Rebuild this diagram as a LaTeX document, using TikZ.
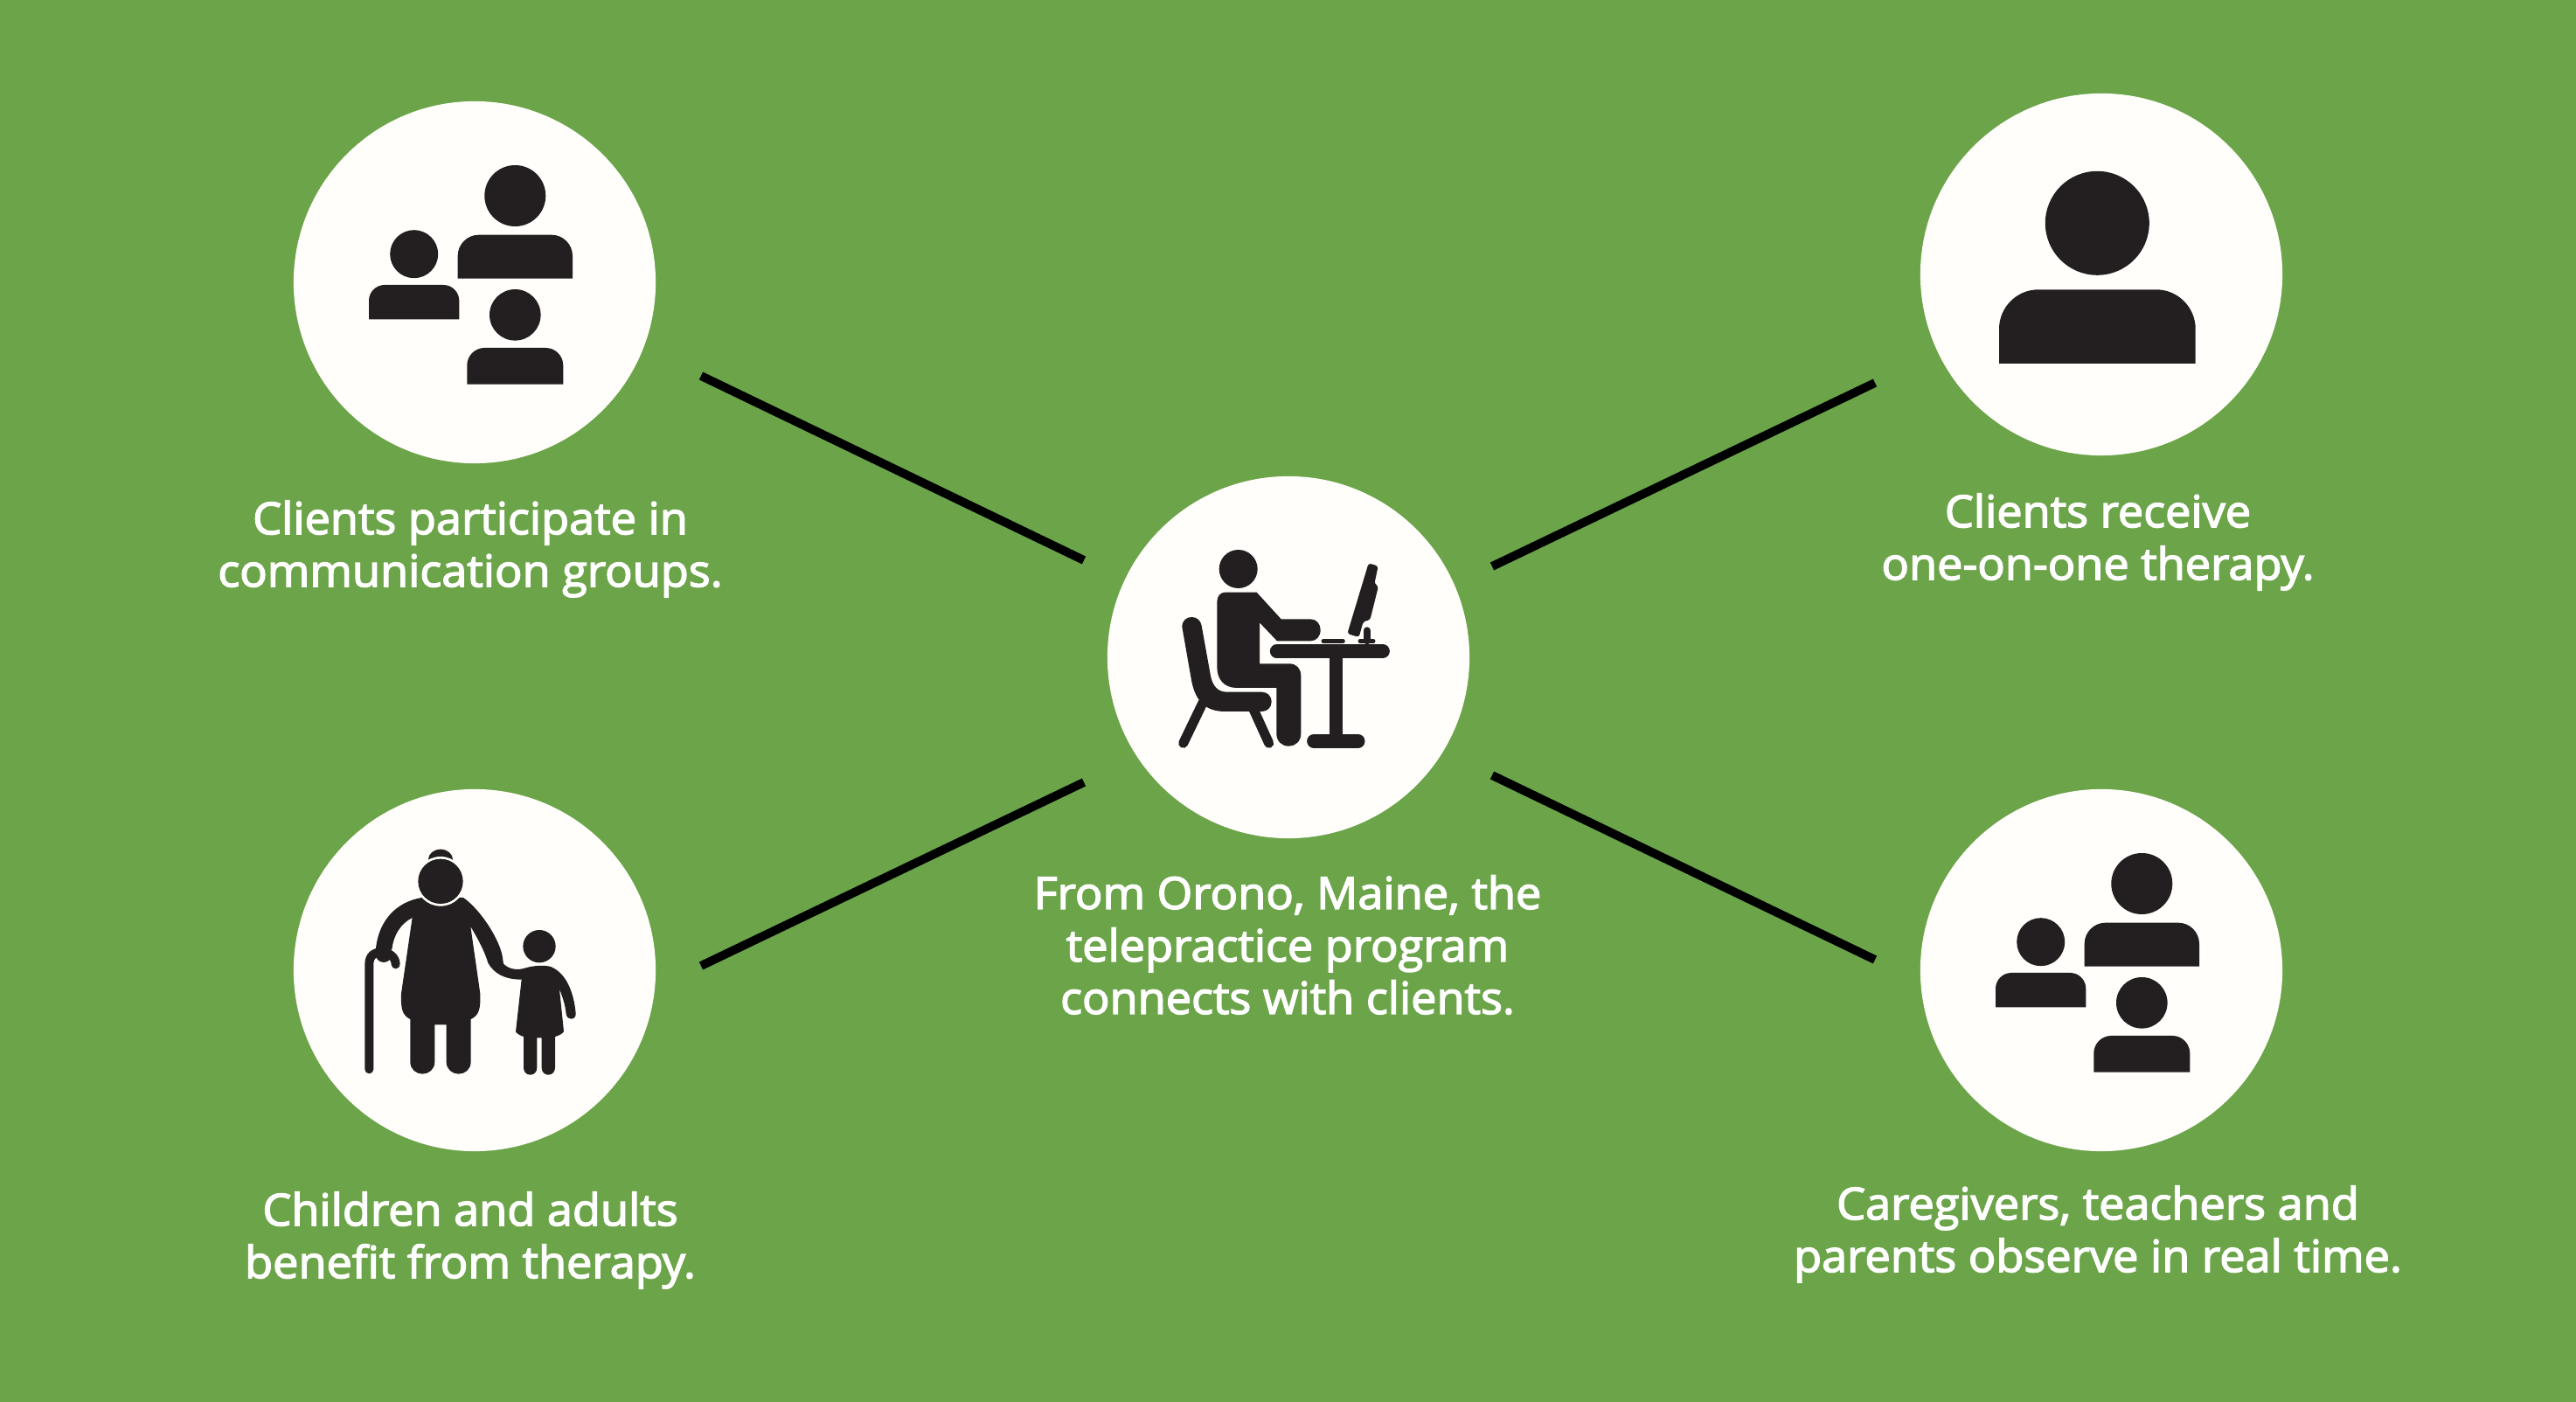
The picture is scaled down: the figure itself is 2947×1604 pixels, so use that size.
\documentclass[tikz,border=0pt]{standalone}
\usepackage{fontspec}
\setmainfont{Open Sans}[FakeBold=2.8,FakeStretch=1.032]
\definecolor{bggreen}{HTML}{6BA449}
\definecolor{disc}{HTML}{FFFEFA}
\definecolor{ink}{HTML}{231F20}
% shoulders: flat bottom, rounded top corners (x1,x2,top,bottom,radius)
\newcommand{\shoulders}[5]{%
  \fill[ink] (#1,#4) -- (#1,#3+#5) .. controls (#1,#3+0.45*#5) and (#1+0.45*#5,#3) .. (#1+#5,#3)
    -- (#2-#5,#3) .. controls (#2-0.45*#5,#3) and (#2,#3+0.45*#5) .. (#2,#3+#5) -- (#2,#4) -- cycle;}
\tikzset{
  disk/.style={circle,fill=disc,minimum size=4.14cm,inner sep=0pt},
  caption/.style={text=white,font=\fontsize{14.4pt}{17.07pt}\selectfont,align=center,inner sep=0pt},
  spoke/.style={draw=black,line width=2.8pt},
  stk/.style={draw=ink,line cap=round},
  pics/trio/.style={code={
    \fill[ink] (46.3,-99) circle (35);
    \shoulders{-19.3}{112}{-54.3}{-4.3}{24}
    \fill[ink] (-69.3,-32.3) circle (27.5);
    \shoulders{-121}{-17.7}{3}{42.3}{18}
    \fill[ink] (46.3,37.3) circle (29.3);
    \shoulders{-8.7}{101.3}{75}{116.7}{20}
  }}
}
\begin{document}
\begin{tikzpicture}[x=0.01cm,y=-0.01cm]
\useasboundingbox (0,0) rectangle (2947,1604);
\fill[bggreen] (0,0) rectangle (2947,1604);
% discs
\node[disk] (tl) at (543,323) {};
\node[disk] (tr) at (2404,314) {};
\node[disk] (ctr) at (1474,752) {};
\node[disk] (bl) at (543,1110) {};
\node[disk] (br) at (2404,1110) {};
% spokes
\coordinate (tla) at (802,430); \coordinate (tlb) at (1240,641);
\coordinate (tra) at (1707,648); \coordinate (trb) at (2145,438);
\coordinate (bla) at (802,1105); \coordinate (blb) at (1240,895);
\coordinate (bra) at (1707,887); \coordinate (brb) at (2145,1098);
\draw[spoke] (tla) -- (tlb);
\draw[spoke] (tra) -- (trb);
\draw[spoke] (bla) -- (blb);
\draw[spoke] (bra) -- (brb);
% group icons
\pic at (543,323) {trio};
\pic at (2404,1110) {trio};
% single person
\fill[ink] (2399.3,255.3) circle (59.5);
\shoulders{2287}{2511.7}{331.3}{416}{45}
% desk icon
\begin{scope}[shift={(1300,600)},x=0.01cm/3,y=-0.01cm/3]
\fill[ink] (350,153) circle (66);
\fill[ink] (305,233) -- (413,233) -- (497,325) -- (598,325)
  .. controls (618,325) and (632,342) .. (632,362)
  .. controls (632,384) and (618,400) .. (598,400) -- (483,400) -- (423,337) -- (423,478) -- (525,478)
  .. controls (550,478) and (565,495) .. (565,520) -- (565,718)
  .. controls (565,745) and (545,761) .. (523,761)
  .. controls (500,761) and (481,745) .. (481,718) -- (481,561) -- (345,561)
  .. controls (300,561) and (277,530) .. (277,490) -- (277,265)
  .. controls (277,245) and (290,233) .. (305,233) -- cycle;
\fill[ink] (157,352) .. controls (157,330) and (172,318) .. (190,318)
  .. controls (208,318) and (221,330) .. (224,348) -- (255,520)
  .. controls (262,555) and (280,575) .. (310,575) -- (430,575)
  .. controls (450,575) and (464,590) .. (464,608)
  .. controls (464,628) and (450,642) .. (430,642) -- (305,642)
  .. controls (240,642) and (205,610) .. (190,540) -- cycle;
\draw[stk,line width=0.11cm] (228,612) -- (161,751);
\draw[stk,line width=0.11cm] (400,630) -- (455,751);
\draw[stk,line width=0.157cm] (482,435.5) -- (846,435.5);
\fill[ink] (662,450) rectangle (709,730);
\draw[stk,line width=0.157cm] (609,743.5) -- (761,743.5);
\draw[stk,line width=0.05cm] (642,400.5) -- (709,400.5);
\draw[stk,line width=0.05cm] (768,400.5) -- (813,400.5);
\draw[stk,line width=0.08cm] (791,364) -- (791,400);
\fill[ink,rounded corners=0.03cm] (797,133) -- (830,143) -- (817,204) -- (831,212) -- (802,328) -- (779,333) -- (764,387) -- (724,375) -- cycle;
\end{scope}
% grandmother and child
\begin{scope}[shift={(390,950)},x=0.01cm/3,y=-0.01cm/3]
\fill[ink] (342,100) ellipse (42 and 35);
\fill[ink] (278,231) .. controls (190,245) and (130,310) .. (120,405) -- (175,410)
  .. controls (180,360) and (205,320) .. (245,300) -- (207,560)
  .. controls (205,610) and (210,635) .. (238,648) -- (238,795)
  .. controls (238,820) and (258,836) .. (280,836)
  .. controls (302,836) and (322,820) .. (322,795) -- (322,667) -- (362,667) -- (362,795)
  .. controls (362,820) and (382,836) .. (404,836)
  .. controls (426,836) and (446,820) .. (446,795) -- (446,648)
  .. controls (475,635) and (480,610) .. (478,560) -- (445,330)
  .. controls (475,380) and (495,420) .. (505,455)
  .. controls (525,490) and (560,512) .. (620,512) -- (600,692)
  .. controls (610,702) and (620,706) .. (627,708) -- (627,815)
  .. controls (627,830) and (638,839) .. (650,839)
  .. controls (662,839) and (673,830) .. (673,815) -- (673,712) -- (689,712) -- (689,815)
  .. controls (689,830) and (700,839) .. (712,839)
  .. controls (724,839) and (735,830) .. (735,815) -- (735,708)
  .. controls (750,704) and (760,698) .. (765,690) -- (750,545)
  .. controls (762,575) and (770,600) .. (773,630)
  .. controls (775,642) and (782,647) .. (790,647)
  .. controls (800,647) and (807,640) .. (806,628)
  .. controls (800,560) and (775,490) .. (720,468)
  .. controls (700,462) and (660,464) .. (635,472)
  .. controls (610,480) and (580,480) .. (558,458)
  .. controls (555,440) and (555,430) .. (550,415)
  .. controls (530,350) and (470,265) .. (420,231) -- cycle;
\fill[disc] (342,175) circle (85);
\fill[ink] (342,175) circle (77);
\fill[ink] (681,398) circle (56);
\draw[stk,line width=0.1cm] (97,820) -- (97,460) .. controls (97,430) and (115,418) .. (140,418) .. controls (165,418) and (188,435) .. (188,460);
\fill[ink] (147,425) circle (28);
\end{scope}
% captions
\node[caption] (ctl) at (538,628) {Clients participate in\\communication groups.};
\node[caption] (ctr2) at (2400,620) {Clients receive\\one-on-one therapy.};
\node[caption] (cc) at (1473,1081) {From Orono, Maine, the\\telepractice program\\connects with clients.};
\node[caption] (cbl) at (538,1419) {Children and adults\\benefit from therapy.};
\node[caption] (cbr) at (2400,1412) {Caregivers, teachers and\\parents observe in real time.};
\end{tikzpicture}
\end{document}
